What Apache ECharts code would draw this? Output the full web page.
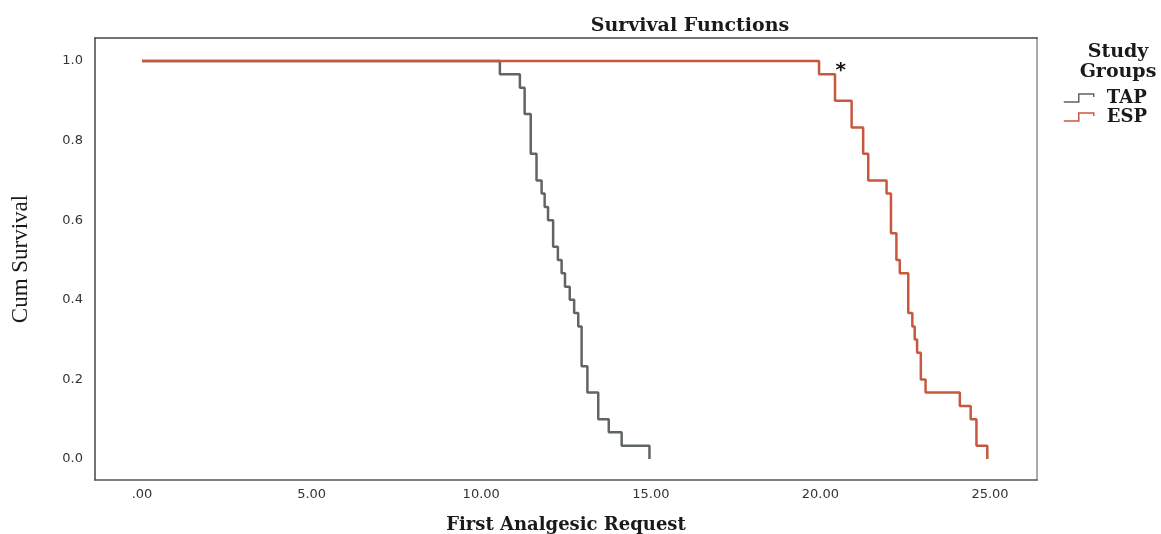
<!DOCTYPE html>
<html>
<head>
<meta charset="utf-8">
<script src="https://cdn.jsdelivr.net/npm/echarts@6/dist/echarts.min.js"></script>
<style>
html,body{margin:0;padding:0;background:#fff;}
#chart{width:1161px;height:534px;}
</style>
</head>
<body>
<div id="chart"></div>
<script>
// ---- data ----
var xTicks = [0, 5, 10, 15, 20, 25];
var yTicks = [0, 0.2, 0.4, 0.6, 0.8, 1.0];
var groups = ['TAP', 'ESP'];
var tapTimes    = [0, 10.55, 11.14, 11.28, 11.46, 11.63, 11.78, 11.87, 11.97, 12.12, 12.26, 12.37, 12.47, 12.61, 12.74, 12.86, 12.96, 13.13, 13.45, 13.76, 14.14, 14.96];
var tapSurvival = [1, 0.967, 0.933, 0.867, 0.767, 0.700, 0.667, 0.633, 0.600, 0.533, 0.500, 0.467, 0.433, 0.400, 0.367, 0.333, 0.233, 0.167, 0.100, 0.067, 0.033, 0];
var espTimes    = [0, 19.96, 20.43, 20.92, 21.26, 21.41, 21.95, 22.08, 22.24, 22.34, 22.59, 22.71, 22.78, 22.85, 22.96, 23.10, 24.11, 24.43, 24.60, 24.92];
var espSurvival = [1, 0.967, 0.900, 0.833, 0.767, 0.700, 0.667, 0.567, 0.500, 0.467, 0.367, 0.333, 0.300, 0.267, 0.200, 0.167, 0.133, 0.100, 0.033, 0];
var annotation = {text: '*', x: 20.6, y: 0.985};

function pairs(xs, ys){ return xs.map(function(x,i){ return [x, ys[i]]; }); }

var TAP_COLOR = '#5f6564';
var ESP_COLOR = '#c7583f';
var SERIF_B = '"DejaVu Serif","Liberation Serif",serif';
var SERIF = '"Liberation Serif","Times New Roman",serif';
var SANS = '"DejaVu Sans","Liberation Sans",Arial,sans-serif';
var stepIcon = 'path://M0,8 L15,8 L15,0 L30,0 L30,3';

var chart = echarts.init(document.getElementById('chart'), null, {renderer:'canvas'});
chart.setOption({
  backgroundColor: '#ffffff',
  animation: false,
  title: [
    {text: 'Survival Functions', left: 685, top: 12, textAlign: 'center',
     textStyle: {fontFamily: SERIF_B, fontWeight: 'bold', fontSize: 19, color: '#1a1a1a'}},
    {text: 'Study\nGroups', left: 1113, top: 37, textAlign: 'center',
     textStyle: {fontFamily: SERIF_B, fontWeight: 'bold', fontSize: 19, color: '#1a1a1a', lineHeight: 20}}
  ],
  legend: {
    orient: 'vertical', left: 1058, top: 84, itemGap: 1, itemWidth: 30, itemHeight: 8,
    textStyle: {fontFamily: SERIF_B, fontWeight: 'bold', fontSize: 18, color: '#1a1a1a', padding: [0,0,0,8]},
    data: [
      {name: groups[0], icon: stepIcon, itemStyle: {color: 'transparent', borderColor: TAP_COLOR, borderWidth: 1.5}},
      {name: groups[1], icon: stepIcon, itemStyle: {color: 'transparent', borderColor: ESP_COLOR, borderWidth: 1.5}}
    ]
  },
  grid: {left: 95, right: 124, top: 38, bottom: 54, containLabel: false, outerBoundsMode: 'none'},
  xAxis: [{
    type: 'value', min: -1.386, max: 26.385,
    name: 'First Analgesic Request', nameLocation: 'middle', nameGap: 36,
    nameTextStyle: {fontFamily: SERIF_B, fontWeight: 'bold', fontSize: 18, color: '#1a1a1a'},
    axisLine: {show: true, onZero: false, lineStyle: {color: '#555', width: 1.5}},
    axisTick: {show: false},
    splitLine: {show: false},
    axisLabel: {customValues: xTicks, margin: 8, fontFamily: SANS, fontSize: 13, color: '#333',
      formatter: function(v){ return v === 0 ? '.00' : v.toFixed(2); }}
  }, {
    type: 'value', position: 'top', min: -1.386, max: 26.385,
    axisLine: {show: true, onZero: false, lineStyle: {color: '#444', width: 1.5}},
    axisTick: {show: false}, axisLabel: {show: false}, splitLine: {show: false}
  }],
  yAxis: [{
    type: 'value', min: -0.0528, max: 1.0578,
    name: 'Cum Survival', nameLocation: 'middle', nameGap: 63, nameRotate: 90,
    nameTextStyle: {fontFamily: SERIF, fontSize: 23, color: '#1a1a1a'},
    axisLine: {show: true, onZero: false, lineStyle: {color: '#444', width: 1.5}},
    axisTick: {show: false},
    splitLine: {show: false},
    axisLabel: {customValues: yTicks, margin: 12, fontFamily: SANS, fontSize: 13, color: '#333',
      formatter: function(v){ return v.toFixed(1); }}
  }, {
    type: 'value', position: 'right', min: -0.0528, max: 1.0578,
    axisLine: {show: true, onZero: false, lineStyle: {color: '#aaaaaa', width: 2}},
    axisTick: {show: false}, axisLabel: {show: false}, splitLine: {show: false}
  }],
  series: [
    {name: groups[0], type: 'line', step: 'end', data: pairs(tapTimes, tapSurvival),
     showSymbol: false, symbol: 'none', color: TAP_COLOR,
     lineStyle: {color: TAP_COLOR, width: 2.5}},
    {name: groups[1], type: 'line', step: 'end', data: pairs(espTimes, espSurvival),
     showSymbol: false, symbol: 'none', color: ESP_COLOR,
     lineStyle: {color: ESP_COLOR, width: 2.5},
     markPoint: {symbol: 'circle', symbolSize: 0, silent: true,
       data: [{coord: [annotation.x, annotation.y], value: annotation.text,
         label: {show: true, position: 'inside', formatter: annotation.text, fontFamily: SANS, fontWeight: 'bold', fontSize: 20, color: '#111', offset: [0, 4]}}]}}
  ]
});
</script>
</body>
</html>
